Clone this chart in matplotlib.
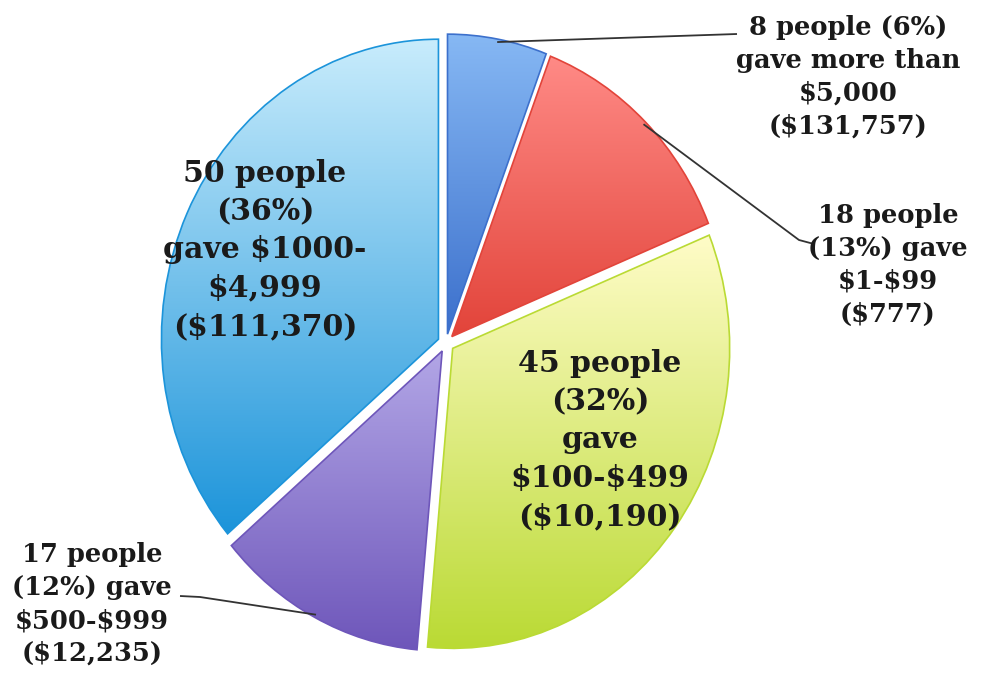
"""Pie de donantes por rango de aporte, con etiquetas y líneas guía."""

import matplotlib

matplotlib.use("Agg")
import matplotlib.pyplot as plt
import numpy as np
from matplotlib.colors import LinearSegmentedColormap

plt.rcParams["text.parse_math"] = False  # los "$" son montos, no LaTeX

# Datos (cantidad de personas por rango)
personas = [8, 18, 45, 17, 50]
etiquetas = [
    "8 people (6%)\ngave more than\n$5,000\n($131,757)",
    "18 people\n(13%) gave\n$1-$99\n($777)",
    "45 people\n(32%)\ngave\n$100-$499\n($10,190)",
    "17 people\n(12%) gave\n$500-$999\n($12,235)",
    "50 people\n(36%)\ngave $1000-\n$4,999\n($111,370)",
]
colores_claros = ["#86b8f4", "#ff8a86", "#fffcc8", "#b2a6e6", "#c8ecfc"]
colores_oscuros = ["#3c70cc", "#e2443a", "#bada34", "#6e56ba", "#1c94da"]

# Geometría en píxeles de la imagen de referencia
CX, CY, RX, RY = 446, 343, 277, 300
W, H = 982, 681


def a_datos(px, py):
    """Convierte una posición en píxeles a coordenadas del eje."""
    return (px - CX) / RX, (CY - py) / RY


fig = plt.figure(figsize=(W / 100, H / 100), dpi=100)
ax = fig.add_axes([0, 0, 1, 1])

cunas, _ = ax.pie(
    personas,
    startangle=90,
    counterclock=False,
    explode=[0.03] * len(personas),
    radius=1,
    wedgeprops=dict(linewidth=1.2),
)

# Relleno con degradé vertical, recortado a cada porción
for cuna, claro, oscuro in zip(cunas, colores_claros, colores_oscuros):
    ext = cuna.get_path().get_extents()
    mapa = LinearSegmentedColormap.from_list("g", [claro, oscuro])
    grad = np.linspace(0, 1, 256).reshape(-1, 1)
    img = ax.imshow(grad, cmap=mapa, aspect="auto", interpolation="bilinear",
                    extent=(ext.x0, ext.x1, ext.y0, ext.y1), zorder=0)
    img.set_clip_path(cuna)
    cuna.set_facecolor("none")
    cuna.set_edgecolor(oscuro)

ax.set_aspect("auto")
ax.set_xlim(-CX / RX, (W - CX) / RX)
ax.set_ylim(-(H - CY) / RY, CY / RY)
ax.axis("off")

estilo = dict(ha="center", va="center", fontweight="bold",
              family="DejaVu Serif", color="#1a1a1a", linespacing=1.4)

# (x, y, tamaño) de cada etiqueta, en píxeles
pos_etiquetas = [(848, 77, 18.5), (888, 265, 18.5), (600, 440, 21.5),
                 (92, 604, 18.5), (265, 250, 21.5)]
for texto, (px, py, tam) in zip(etiquetas, pos_etiquetas):
    x, y = a_datos(px, py)
    ax.text(x, y, texto, fontsize=tam, **estilo)


def borde_medio(cuna, r=0.99):
    ang = np.deg2rad((cuna.theta1 + cuna.theta2) / 2)
    cx, cy = cuna.center
    return cx + r * np.cos(ang), cy + r * np.sin(ang)


def guia(cuna, extremo, codo=None):
    """Línea desde el borde de la porción hasta la etiqueta (con codo opcional)."""
    puntos = [borde_medio(cuna)]
    if codo is not None:
        puntos.append(a_datos(*codo))
    puntos.append(a_datos(*extremo))
    xs, ys = zip(*puntos)
    ax.plot(xs, ys, color="#333333", linewidth=1.3, solid_capstyle="butt")


guia(cunas[0], (737, 34))
guia(cunas[1], (814, 244), codo=(799, 240))
guia(cunas[3], (180, 596), codo=(200, 597))

fig.savefig("out.png", dpi=100, facecolor="white")
plt.close(fig)
